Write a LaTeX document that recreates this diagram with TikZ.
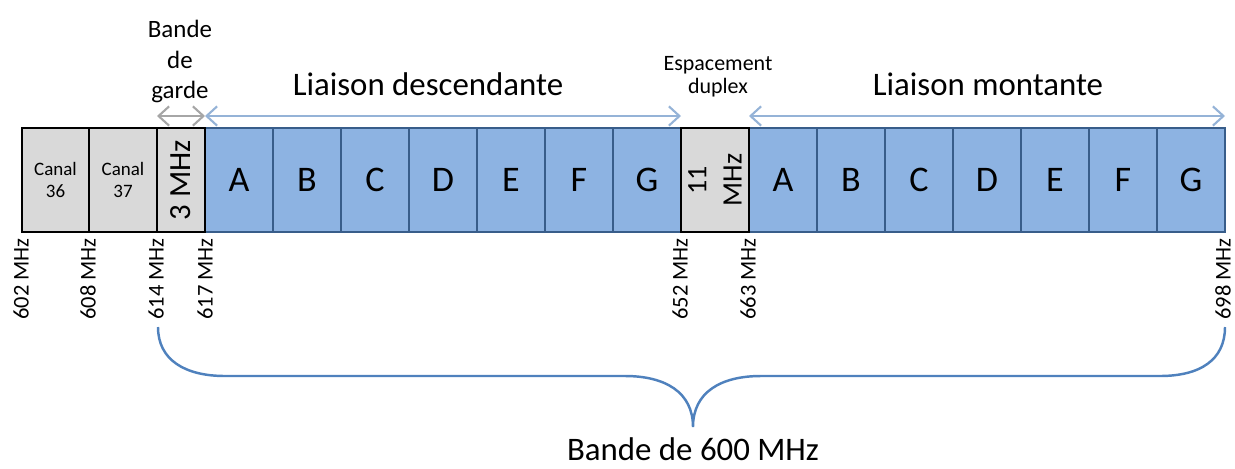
\documentclass[tikz,border=0pt]{standalone}
\usepackage{fontspec}
\setmainfont{Carlito}
\usetikzlibrary{arrows.meta}
\definecolor{canalgray}{HTML}{D9D9D9}
\definecolor{blockblue}{HTML}{8DB3E2}
\definecolor{blockedge}{HTML}{385D8A}
\definecolor{arrowblue}{HTML}{95B3D7}
\definecolor{arrowgray}{HTML}{A6A6A6}
\definecolor{braceblue}{HTML}{4F81BD}
\tikzset{>={Straight Barb[length=6pt,width=11pt]}}

\begin{document}
\begin{tikzpicture}[x=0.02cm,y=0.02cm,
    graybox/.style={draw=black,fill=canalgray,line width=0.8pt},
    bluebox/.style={draw=blockedge,fill=blockblue,line width=0.8pt},
    block/.style={font=\fontsize{20.5}{22}\selectfont},
    freq/.style={rotate=90,anchor=east,inner sep=0pt,font=\fontsize{12.8}{14}\selectfont},
    title/.style={anchor=base,font=\fontsize{18.7}{22}\selectfont},
    span/.style={<->,line width=1.2pt}]
    \useasboundingbox (0,0) rectangle (1235,-468);
    \pgfmathsetmacro{\bw}{68}
    \pgfmathsetmacro{\bh}{104}
    \pgfmathsetmacro{\top}{-128}
    % liaison descendante
    \draw[bluebox] (205,\top) rectangle ++(\bw,-\bh) node[midway,block] (dA) {A};
    \draw[bluebox] (273,\top) rectangle ++(\bw,-\bh) node[midway,block] (dB) {B};
    \draw[bluebox] (341,\top) rectangle ++(\bw,-\bh) node[midway,block] (dC) {C};
    \draw[bluebox] (409,\top) rectangle ++(\bw,-\bh) node[midway,block] (dD) {D};
    \draw[bluebox] (477,\top) rectangle ++(\bw,-\bh) node[midway,block] (dE) {E};
    \draw[bluebox] (545,\top) rectangle ++(\bw,-\bh) node[midway,block] (dF) {F};
    \draw[bluebox] (613,\top) rectangle ++(\bw,-\bh) node[midway,block] (dG) {G};
    % liaison montante
    \draw[bluebox] (749,\top) rectangle ++(\bw,-\bh) node[midway,block] (uA) {A};
    \draw[bluebox] (817,\top) rectangle ++(\bw,-\bh) node[midway,block] (uB) {B};
    \draw[bluebox] (885,\top) rectangle ++(\bw,-\bh) node[midway,block] (uC) {C};
    \draw[bluebox] (953,\top) rectangle ++(\bw,-\bh) node[midway,block] (uD) {D};
    \draw[bluebox] (1021,\top) rectangle ++(\bw,-\bh) node[midway,block] (uE) {E};
    \draw[bluebox] (1089,\top) rectangle ++(\bw,-\bh) node[midway,block] (uF) {F};
    \draw[bluebox] (1157,\top) rectangle ++(\bw,-\bh) node[midway,block] (uG) {G};
    % canaux et espacements
    \draw[graybox] (22,\top) rectangle ++(67,-\bh) node[midway,align=center,font=\fontsize{10.8}{12.5}\selectfont] (c36) {Canal\\36};
    \draw[graybox] (89,\top) rectangle ++(68,-\bh) node[midway,align=center,font=\fontsize{10.8}{12.5}\selectfont] (c37) {Canal\\37};
    \draw[graybox] (157,\top) rectangle ++(48,-\bh) node[midway,rotate=90,font=\fontsize{17.5}{18}\selectfont] (garde) {3 MHz};
    \draw[graybox] (681,\top) rectangle ++(\bw,-\bh) node[midway,rotate=90,align=center,font=\fontsize{16}{20}\selectfont] (duplex) {11\\MHz};
    % frequences
    \node[freq] (f602) at (21,-238) {602 MHz};
    \node[freq] (f608) at (88,-238) {608 MHz};
    \node[freq] (f614) at (156,-238) {614 MHz};
    \node[freq] (f617) at (205,-238) {617 MHz};
    \node[freq] (f652) at (680,-238) {652 MHz};
    \node[freq] (f663) at (748,-238) {663 MHz};
    \node[freq] (f698) at (1223,-238) {698 MHz};
    % fleches
    \coordinate (k614) at (157,-116);
    \coordinate (k617) at (205,-116);
    \coordinate (k652) at (681,-116);
    \coordinate (k663) at (749,-116);
    \coordinate (k698) at (1225,-116);
    \draw[span,arrowgray] (k614) -- (k617);
    \draw[span,arrowblue] (k617) -- (k652);
    \draw[span,arrowblue] (k663) -- (k698);
    % titres
    \node[anchor=north,inner sep=0pt,align=center,font=\fontsize{14.2}{17.3}\selectfont] (bgarde) at (180,-20) {Bande\\de\\garde};
    \node[anchor=north,inner sep=0pt,align=center,font=\fontsize{12.5}{13}\selectfont] (espace) at (718,-56) {Espacement\\duplex};
    \node[title] (tdown) at (428,-95) {Liaison descendante};
    \node[title] (tup) at (988,-95) {Liaison montante};
    % accolade
    \draw[braceblue,line width=1.4pt] (158,-327) .. controls (158,-360) and (185,-376) .. (225,-376) -- (625,-376)
        .. controls (665,-376) and (693,-392) .. (693,-427) .. controls (693,-392) and (721,-376) .. (761,-376)
        -- (1160,-376) .. controls (1200,-376) and (1225,-360) .. (1225,-327);
    \node[title] (bande) at (693,-460) {Bande de 600 MHz};
\end{tikzpicture}
\end{document}
